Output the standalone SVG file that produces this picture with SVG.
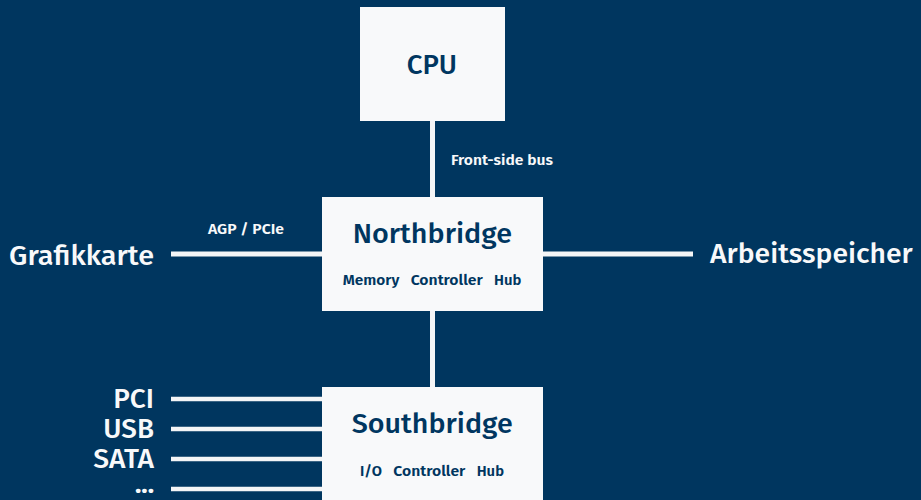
<svg xmlns="http://www.w3.org/2000/svg" width="921" height="500" viewBox="0 0 921 500">
  <defs>
    <style>
      .bg { fill: #00365F; }
      .box { fill: #F8F9FA; }
      .bus { stroke: #F4F5F6; stroke-width: 5; fill: none; }
      .port { stroke: #F4F5F6; stroke-width: 4.5; fill: none; }
      text { font-family: "Fira Sans", "Open Sans", "Noto Sans", sans-serif; font-weight: 500; }
      .title { fill: #003660; font-size: 28px; }
      .sub { fill: #003660; font-size: 15px; font-weight: 600; }
      .ext { fill: #F8F9FA; font-size: 28px; }
      .dots { fill: #F8F9FA; font-size: 24px; font-weight: 700; }
      .lbl { fill: #F8F9FA; font-size: 15px; font-weight: 600; }
    </style>
  </defs>

  <rect class="bg" x="0" y="0" width="921" height="500"/>

  <!-- buses and ports -->
  <g id="connectors">
    <line class="bus" x1="432.5" y1="121" x2="432.5" y2="197"/>
    <line class="bus" x1="432.5" y1="311" x2="432.5" y2="387"/>
    <line class="bus" x1="171" y1="254" x2="322" y2="254"/>
    <line class="bus" x1="543" y1="254" x2="693" y2="254"/>
    <line class="port" x1="171" y1="399" x2="322" y2="399"/>
    <line class="port" x1="171" y1="429" x2="322" y2="429"/>
    <line class="port" x1="171" y1="459" x2="322" y2="459"/>
    <line class="port" x1="171" y1="489" x2="322" y2="489"/>
    <text class="lbl" x="451" y="165.3" textLength="102" lengthAdjust="spacingAndGlyphs">Front-side bus</text>
    <text class="lbl" x="208" y="234" textLength="76" lengthAdjust="spacingAndGlyphs">AGP / PCIe</text>
  </g>

  <g id="cpu">
    <rect class="box" x="360" y="7" width="145" height="114"/>
    <text class="title" x="406.7" y="74" textLength="50.3" lengthAdjust="spacingAndGlyphs">CPU</text>
  </g>

  <g id="northbridge">
    <rect class="box" x="322" y="197" width="221" height="114"/>
    <text class="title" x="352.7" y="242.7" textLength="159.3" lengthAdjust="spacingAndGlyphs">Northbridge</text>
    <text class="sub" x="342.7" y="285.3" textLength="56.6" lengthAdjust="spacingAndGlyphs">Memory</text>
    <text class="sub" x="410.7" y="285.3" textLength="72" lengthAdjust="spacingAndGlyphs">Controller</text>
    <text class="sub" x="494" y="285.3" textLength="27.3" lengthAdjust="spacingAndGlyphs">Hub</text>
  </g>

  <g id="southbridge">
    <rect class="box" x="322" y="387" width="221" height="113"/>
    <text class="title" x="351.7" y="433.3" textLength="161" lengthAdjust="spacingAndGlyphs">Southbridge</text>
    <text class="sub" x="360" y="475.7" textLength="22" lengthAdjust="spacingAndGlyphs">I/O</text>
    <text class="sub" x="393.3" y="475.7" textLength="72" lengthAdjust="spacingAndGlyphs">Controller</text>
    <text class="sub" x="476.7" y="475.7" textLength="27.3" lengthAdjust="spacingAndGlyphs">Hub</text>
  </g>

  <g id="grafikkarte">
    <text class="ext" x="9" y="265" textLength="145" lengthAdjust="spacingAndGlyphs">Grafikkarte</text>
  </g>

  <g id="arbeitsspeicher">
    <text class="ext" x="710" y="263" textLength="202.7" lengthAdjust="spacingAndGlyphs">Arbeitsspeicher</text>
  </g>

  <g id="pci">
    <text class="ext" x="113.3" y="407.7" textLength="40.7" lengthAdjust="spacingAndGlyphs">PCI</text>
  </g>
  <g id="usb">
    <text class="ext" x="103.3" y="437.5" textLength="50.7" lengthAdjust="spacingAndGlyphs">USB</text>
  </g>
  <g id="sata">
    <text class="ext" x="93.3" y="468" textLength="60.7" lengthAdjust="spacingAndGlyphs">SATA</text>
  </g>
  <g id="more">
    <text class="dots" x="135" y="492.5" textLength="19" lengthAdjust="spacingAndGlyphs">...</text>
  </g>
</svg>
